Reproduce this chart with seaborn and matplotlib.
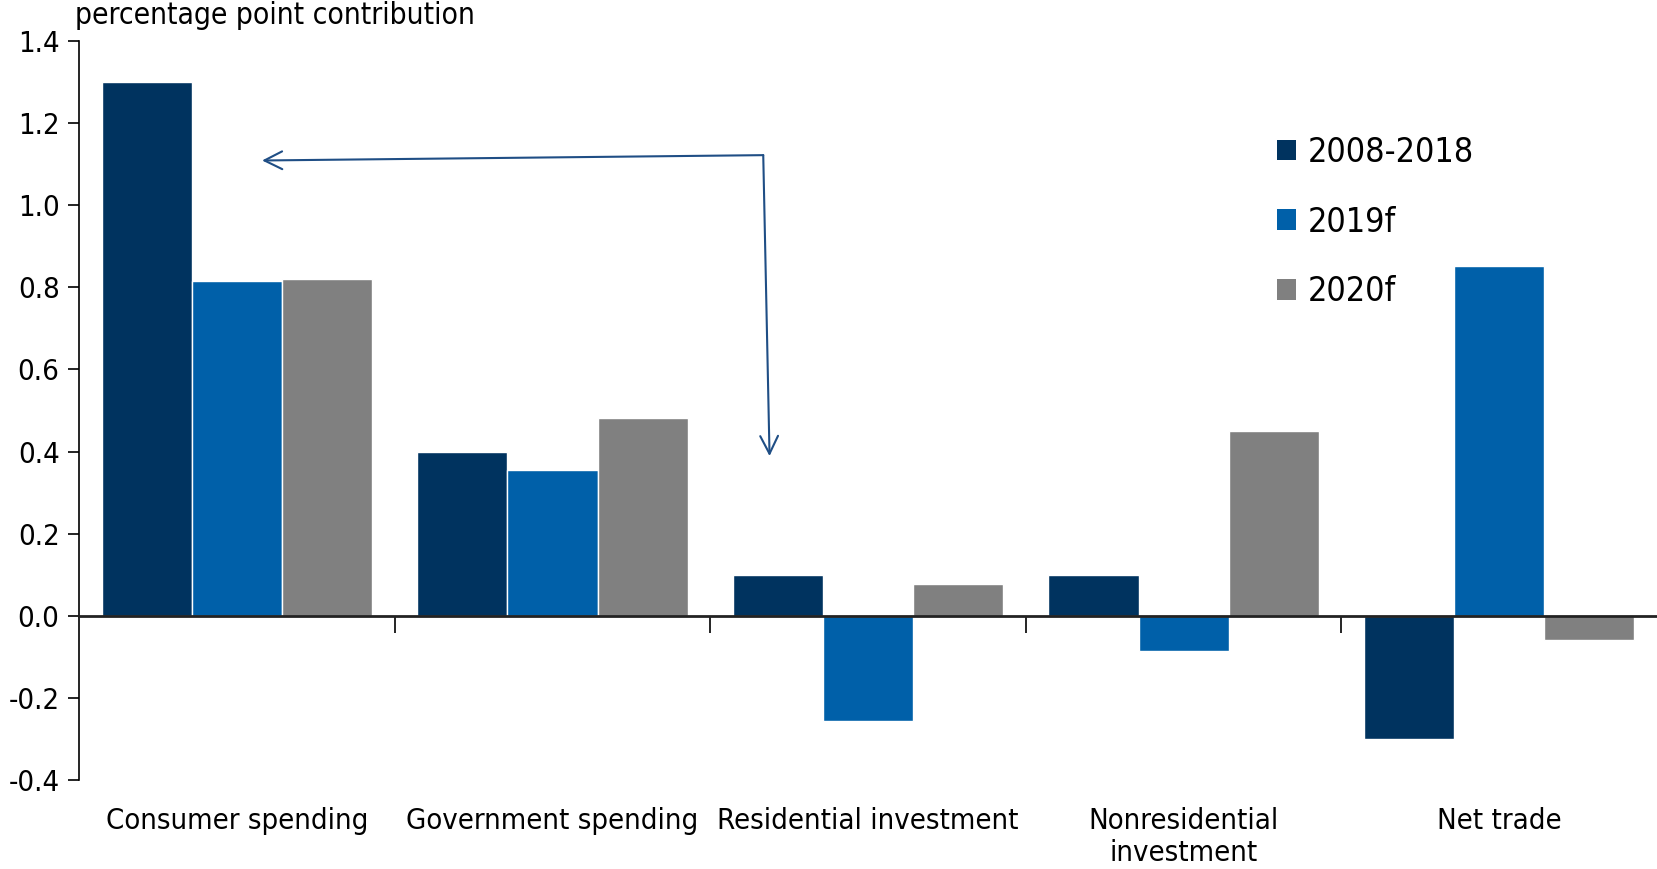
import numpy as np
import pandas as pd
import seaborn as sns
import matplotlib.pyplot as plt
from matplotlib.patches import Patch
from matplotlib import font_manager as fm

categories = ["Consumer spending", "Government spending", "Residential investment",
              "Nonresidential\ninvestment", "Net trade"]
series = ["2008-2018", "2019f", "2020f"]
v_2008_2018 = [1.30, 0.40, 0.10, 0.10, -0.30]
v_2019f = [0.815, 0.355, -0.257, -0.085, 0.852]
v_2020f = [0.821, 0.481, 0.077, 0.450, -0.059]
colors = ["#00335F", "#0060A9", "#808080"]

df = pd.DataFrame({
    "category": categories * 3,
    "series": [s for s in series for _ in categories],
    "value": v_2008_2018 + v_2019f + v_2020f,
})

sns.set_style("white")
try:
    fm.findfont(fm.FontProperties(family="DejaVu Sans", stretch="condensed"), fallback_to_default=False)
    plt.rcParams["font.stretch"] = "condensed"
except Exception:
    pass
plt.rcParams["font.family"] = ["DejaVu Sans"]
plt.rcParams["text.color"] = "black"
plt.rcParams["ytick.color"] = "black"
plt.rcParams["xtick.color"] = "black"

fig = plt.figure(figsize=(16.57, 8.69), dpi=100)
ax = fig.add_axes([0.0477, 0.1024, 0.9523, 0.8504])

sns.barplot(data=df, x="category", y="value", hue="series", palette=colors,
            width=0.857, gap=0, ax=ax, legend=False, saturation=1)

ax.set_xlim(-0.5, 4.5)
ax.set_ylim(-0.4, 1.4)
ax.set_yticks(np.arange(-0.4, 1.41, 0.2))
ax.set_yticklabels([f"{t:.1f}" for t in np.arange(-0.4, 1.41, 0.2)], fontsize=21)
ax.tick_params(axis="y", direction="out", length=8, width=1.2, color="black", pad=6, left=True)

for s in ["top", "right"]:
    ax.spines[s].set_visible(False)
ax.spines["left"].set_color("black")
ax.spines["left"].set_linewidth(1.2)
ax.spines["bottom"].set_position(("data", 0))
ax.spines["bottom"].set_color("#222222")
ax.spines["bottom"].set_linewidth(2)

ax.set_xticks([0.5, 1.5, 2.5, 3.5])
ax.set_xticklabels([])
ax.tick_params(axis="x", direction="out", length=12, width=1.2, color="black", bottom=True)
ax.set_xlabel("")
ax.set_ylabel("")

for i, c in enumerate(categories):
    ax.text(i, -0.036, c, transform=ax.get_xaxis_transform(), ha="center", va="top",
            fontsize=21, linespacing=1.2)

fig.text(0.0455, 0.982, "percentage point contribution", ha="left", va="center", fontsize=21.5)

handles = [Patch(facecolor=c, edgecolor="none") for c in colors]
ax.legend(handles, series, loc="upper left", bbox_to_anchor=(0.74, 0.913), frameon=False,
          fontsize=24.5, handlelength=0.55, handleheight=0.55, handletextpad=0.35, labelspacing=1.08)

arrow_color = "#1F4E85"
ax.annotate("", xy=(0.080, 1.109), xytext=(1.668, 1.122),
            arrowprops=dict(arrowstyle="->", color=arrow_color, lw=1.5, mutation_scale=32,
                            shrinkA=0, shrinkB=0))
ax.annotate("", xy=(1.688, 0.389), xytext=(1.668, 1.122),
            arrowprops=dict(arrowstyle="->", color=arrow_color, lw=1.5, mutation_scale=32,
                            shrinkA=0, shrinkB=0))

fig.savefig("out.png", dpi=100)
